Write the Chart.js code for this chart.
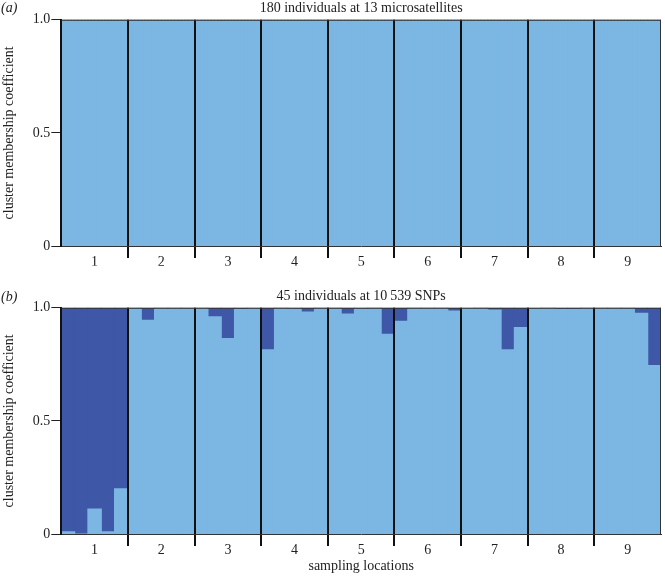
<!DOCTYPE html>
<html><head><meta charset="utf-8">
<script src="https://cdn.jsdelivr.net/npm/chart.js@4/dist/chart.umd.min.js"></script>
<style>
html,body{margin:0;padding:0;background:#fff;}
#wrap{position:relative;width:665px;height:577px;overflow:hidden;}
canvas{position:absolute;left:0;}
</style></head><body>
<div id="wrap">
<canvas id="ca" width="665" height="280" style="top:0"></canvas>
<canvas id="cb" width="665" height="297" style="top:280px"></canvas>
</div>
<script>
// ---- data ----
const locations = ['1','2','3','4','5','6','7','8','9'];
const yTickValues = [0, 0.5, 1];
const titleA = '180 individuals at 13 microsatellites';
const titleB = '45 individuals at 10\u2009539 SNPs';
const yAxisTitle = 'cluster membership coefficient';
const xAxisTitle = 'sampling locations';

// panel (a): membership in light cluster, 20 individuals per location
const microsatLight = [
  1,1,1,1,1,1,1,1,1,1,1,1,1,1,1,1,1,1,1,1,
  1,1,1,1,1,1,1,1,1,1,1,1,1,1,1,1,1,1,1,1,
  1,1,1,1,1,1,1,1,1,1,1,1,1,1,1,1,1,1,1,1,
  1,1,1,1,1,1,1,1,1,1,1,1,1,1,1,1,1,1,1,1,
  1,1,1,1,1,1,1,1,1,1,1,1,1,1,1,1,1,1,1,1,
  1,1,1,1,1,1,1,1,1,1,1,1,1,1,1,1,1,1,1,1,
  1,1,1,1,1,1,1,1,1,1,1,1,1,1,1,1,1,1,1,1,
  1,1,1,1,1,1,1,1,1,1,1,1,1,1,1,1,1,1,1,1,
  1,1,1,1,1,1,1,1,1,1,1,1,1,1,1,1,1,1,1,1
];

// panel (b): membership in light cluster, 5 individuals per location
const snpLight = [
  0.01, 0.00, 0.11, 0.01, 0.20,
  1.00, 0.944, 1.00, 1.00, 1.00,
  1.00, 0.96, 0.864, 0.993, 0.998,
  0.814, 1.00, 0.995, 0.981, 1.00,
  1.00, 0.972, 0.995, 1.00, 0.883,
  0.94, 1.00, 1.00, 1.00, 0.985,
  0.997, 1.00, 0.99, 0.814, 0.912,
  0.995, 1.00, 0.993, 0.993, 1.00,
  1.00, 1.00, 1.00, 0.975, 0.744
];

// ---- styles ----
const LIGHT = 'rgb(124,182,226)';
const DARK = 'rgb(62,87,167)';
const TXT = '#222';
const FONT = {family: '"Liberation Serif", "DejaVu Serif", serif', size: 14, weight: 'normal'};

const framePlugin = {
  id: 'frame',
  afterDraw(chart) {
    const a = chart.chartArea, ctx = chart.ctx;
    ctx.save();
    ctx.strokeStyle = '#333';
    ctx.lineWidth = 1;
    ctx.beginPath();
    ctx.moveTo(a.left, a.top + 0.5);
    ctx.lineTo(a.right, a.top + 0.5);
    ctx.stroke();
    ctx.font = 'italic 14px "Liberation Serif", serif';
    ctx.fillStyle = TXT;
    ctx.textBaseline = 'middle';
    ctx.textAlign = 'left';
    ctx.fillText(chart.options.plugins.frame.tag, 1, chart.options.plugins.frame.tagY);
    ctx.restore();
  }
};

function makeChart(id, light, title, tag, tagY, showXTitle, titlePadTop, pads) {
  const dark = light.map(v => Math.round((1 - v) * 1000) / 1000);
  const common = {xAxisID: 'x', yAxisID: 'y', barPercentage: 1, categoryPercentage: 1,
                  borderWidth: 0, inflateAmount: 0.6, stack: 's'};
  return new Chart(document.getElementById(id), {
    type: 'bar',
    data: {
      labels: light.map((_, i) => String(i + 1)),
      datasets: [
        Object.assign({label: 'light cluster', data: light, backgroundColor: LIGHT}, common),
        Object.assign({label: 'dark cluster', data: dark, backgroundColor: DARK}, common)
      ]
    },
    options: {
      responsive: false, animation: false,
      layout: {padding: pads},
      plugins: {
        legend: {display: false}, tooltip: {enabled: false},
        title: {display: true, text: title, fullSize: false, font: FONT, color: TXT,
                padding: {top: 0, bottom: 3}},
        frame: {tag: tag, tagY: tagY}
      },
      scales: {
        x: {type: 'category', display: false, stacked: true, offset: true},
        loc: {type: 'category', labels: locations, position: 'bottom', offset: true, z: 2,
          grid: {offset: true, drawOnChartArea: true, tickLength: 12, z: 1,
            color: c => (c.type === 'tick' && c.index === 0) ? 'rgba(0,0,0,0)' : (c.type === 'tick' ? '#111' : '#333'),
            lineWidth: c => c.type === 'tick' ? 2 : 1,
            tickColor: c => (c.type === 'tick' && c.index > 0) ? '#111' : 'rgba(0,0,0,0)',
            tickWidth: 2},
          border: {display: true, color: '#333', width: 1, z: 1},
          ticks: {padding: -4.5, font: FONT, color: TXT, maxRotation: 0, autoSkip: false, z: 1},
          title: {display: showXTitle, text: xAxisTitle, font: FONT, color: TXT, padding: {top: titlePadTop, bottom: 0}}
        },
        y: {min: 0, max: 1, stacked: true, z: 2,
          afterBuildTicks: ax => { ax.ticks = yTickValues.map(v => ({value: v})); },
          ticks: {callback: v => v === 0 ? '0' : v.toFixed(1), font: FONT, color: TXT, padding: 1, z: 1},
          grid: {drawOnChartArea: false, tickLength: 10, color: '#222', lineWidth: 1, z: 1},
          border: {display: true, color: '#111', width: 2, z: 1},
          title: {display: true, text: yAxisTitle, font: FONT, color: TXT, padding: {top: 0, bottom: 14}}
        }
      }
    },
    plugins: [framePlugin]
  });
}

makeChart('ca', microsatLight, titleA, '(a)', 8, false, 0, {top: 0, left: 1, right: 4, bottom: 14.2});
makeChart('cb', snpLight, titleB, '(b)', 17, true, 4.4, {top: 8, left: 1, right: 4, bottom: 2});
</script>
</body></html>
